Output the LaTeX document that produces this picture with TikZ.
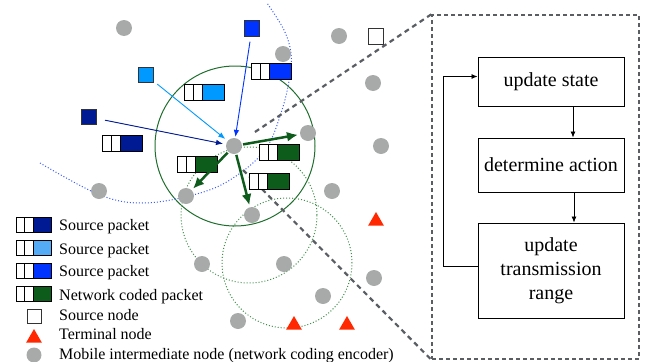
\documentclass[tikz,border=0pt]{standalone}
\usepackage{fontspec}
\setmainfont{Liberation Serif}
\usetikzlibrary{arrows.meta,shapes.geometric,calc}
\definecolor{gry}{HTML}{A7AAA9}
\definecolor{navyc}{HTML}{001A94}
\definecolor{lbl}{HTML}{0099FF}
\definecolor{lblleg}{HTML}{55AAF5}
\definecolor{bluc}{HTML}{0033FF}
\definecolor{grnf}{HTML}{0E5C1C}
\definecolor{grnl}{HTML}{1F6E2C}
\definecolor{grnd}{HTML}{3F8F4A}
\definecolor{redt}{HTML}{FF2800}
\definecolor{dsh}{HTML}{5A5E63}
\definecolor{bdot}{HTML}{3A5CFF}
\newcommand{\pkt}[3]{%
 \draw[pk] (#1,#2) rectangle ++(9,16);
 \draw[pk] ({#1+9},#2) rectangle ++(9,16);
 \draw[pk,fill=#3] ({#1+18},#2) rectangle ++(22,16);}
\newcommand{\lpkt}[3]{%
 \draw[pk] (#1,#2) rectangle ++(8.5,15);
 \draw[pk] ({#1+8.5},#2) rectangle ++(8.5,15);
 \draw[pk,fill=#3] ({#1+17},#2) rectangle ++(18,15);}
\begin{document}
\begin{tikzpicture}[x=1pt,y=-1pt,
  mob/.style={circle,fill=gry,minimum size=16pt,inner sep=0pt},
  srcsq/.style={draw=black!80,line width=0.8pt,minimum size=15.5pt,inner sep=0pt},
  term/.style={regular polygon,regular polygon sides=3,fill=redt,minimum size=18pt,inner sep=0pt},
  pk/.style={draw=black,line width=0.9pt,fill=white},
  thinarr/.style={line width=0.9pt,-{Latex[length=7pt,width=5.5pt]}},
  grnarr/.style={draw=grnf,line width=2.5pt,-{Latex[length=11pt,width=10pt]},shorten >=2pt,shorten <=1pt},
  zoomln/.style={draw=dsh,line width=2.2pt,dash pattern=on 5pt off 4pt},
  legtxt/.style={anchor=base west,inner sep=0pt,font=\fontsize{16}{19}\selectfont},
  fbox/.style={draw,line width=0.9pt,minimum width=146pt,align=center,inner sep=0pt,font=\fontsize{20}{24}\selectfont},
  farr/.style={line width=0.8pt,-{Latex[length=6pt,width=5pt]}}]
\useasboundingbox (0,0) rectangle (649,362);

% range circles
\draw[grnl,line width=1pt] (235,146) circle[radius=80pt];
\draw[grnd,line width=1pt,dotted] (249,215) circle[radius=68pt];
\draw[grnd,line width=1pt,dotted] (287,263) circle[radius=65pt];
\draw[bdot,line width=1pt,dotted] plot[smooth,tension=0.6] coordinates {(40,163) (100,195) (143,203) (193,195) (230,180) (265,150) (282,110) (290,75) (291,53) (284,30) (267,3)};

% mobile nodes
\node[mob] (m1) at (124,28) {};
\node[mob] (m2) at (99,191) {};
\node[mob] (m3) at (186,196) {};
\node[mob] (m4) at (339,36) {};
\node[mob] (m5) at (283,54) {};
\node[mob] (m6) at (373,83) {};
\node[mob] (m7) at (308,133) {};
\node[mob] (c) at (234,146) {};
\node[mob] (m8) at (381,146) {};
\node[mob] (m9) at (332,191) {};
\node[mob] (m10) at (252,215) {};
\node[mob] (m11) at (202,264) {};
\node[mob] (m12) at (284,264) {};
\node[mob] (m13) at (374,278) {};
\node[mob] (m14) at (323,296) {};
\node[mob] (m15) at (238,321) {};

% terminals
\node[term] (t1) at (376,221) {};
\node[term] (t2) at (294,325) {};
\node[term] (t3) at (347,325) {};

% sources
\node[srcsq,fill=navyc] (sa) at (89,117) {};
\node[srcsq,fill=lbl] (sb) at (146,75) {};
\node[srcsq,fill=bluc] (sc) at (252,28.5) {};
\node[srcsq,fill=white,line width=1pt] (sd) at (376,36.5) {};

% zoom lines and box
\node[draw=dsh,line width=1.4pt,dash pattern=on 4pt off 3pt,minimum width=207pt,minimum height=344pt,inner sep=0pt] (zb) at (535.5,187) {};
\coordinate (lo) at (243,170);
\draw[zoomln,shorten <=17pt] (c) -- (zb.north west);
\draw[zoomln] (lo) -- (zb.south west);

% packets
\pkt{102}{135}{navyc}
\pkt{184}{84}{lbl}
\pkt{251}{63}{bluc}
\pkt{177}{156}{grnf}
\pkt{259}{144}{grnf}
\pkt{249}{173}{grnf}

% arrows
\draw[thinarr,navyc,shorten <=8pt,shorten >=3pt] (sa) -- (c);
\draw[thinarr,lbl,shorten <=4pt,shorten >=3pt] (sb) -- (c);
\draw[thinarr,bluc,shorten <=5pt,shorten >=1pt] (sc) -- (c);
\draw[grnarr] (c) -- (m7);
\draw[grnarr] (c) -- (m3);
\draw[grnarr] (c) -- (m10);

% legend
\lpkt{16}{217}{navyc}
\lpkt{16}{240}{lblleg}
\lpkt{16}{263}{bluc}
\lpkt{16}{286}{grnf}
\node[srcsq,fill=white,minimum size=14pt] (ls) at (34,316) {};
\node[term] (lt) at (34,338) {};
\node[mob,minimum size=15pt] (lm) at (34,355) {};
\node[legtxt] (l1) at (59,230) {Source packet};
\node[legtxt] (l2) at (59,254) {Source packet};
\node[legtxt] (l3) at (59,276) {Source packet};
\node[legtxt] (l4) at (59,300) {Network coded packet};
\node[legtxt] (l5) at (59,320.5) {Source node};
\node[legtxt] (l6) at (59,339.5) {Terminal node};
\node[legtxt] (l7) at (59,359) {Mobile intermediate node (network coding encoder)};

% flowchart
\node[fbox,minimum height=49pt] (s1) at (551,81.5) {update state};
\node[fbox,minimum height=54pt] (s2) at (551,165) {determine action};
\node[fbox,minimum height=95pt] (s3) at (551,270.5) {update\\transmission\\range};
\draw[farr] ([xshift=22pt]s1.south) -- ([xshift=22pt]s2.north);
\draw[farr] ([xshift=23pt]s2.south) -- ([xshift=23pt]s3.north);
\draw[farr] ([yshift=4pt]s3.west) -- ++(-34,0) |- ([yshift=5pt]s1.west);
\end{tikzpicture}
\end{document}
